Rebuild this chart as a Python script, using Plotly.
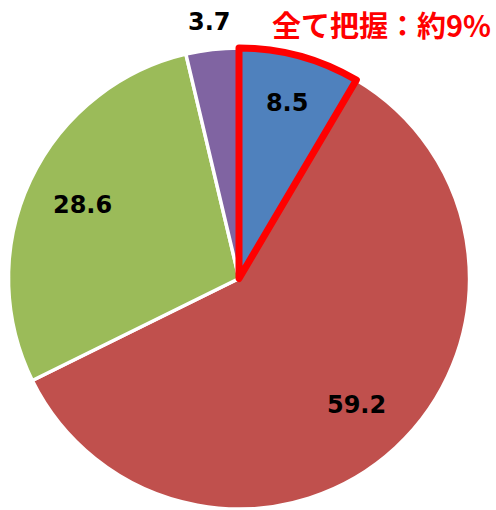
import math
import plotly.graph_objects as go

# data (clockwise from 12 o'clock: blue, red, green, purple)
labels = ["全て把握", "一部把握", "把握していない", "その他"]
values = [8.5, 59.2, 28.6, 3.7]
colors = ["#4F81BD", "#C0504D", "#9BBB59", "#8064A2"]
text_labels = ["8.5", "59.2", "28.6", "3.7"]
callout = "全て把握：約9%"

W, H = 496, 510
# draw the highlighted slice last so its outline sits on top
order = [1, 2, 3, 0]
total = sum(values)
start_angle = values[0] / total * 360

line_colors = ["#FF0000" if i == 0 else "white" for i in order]
line_widths = [7 if i == 0 else 3.5 for i in order]
# the small slice gets its label outside (placed below), others inside the ring
positions = ["none" if i == 3 else "inside" for i in order]

dx0, dx1 = 8 / W, 470 / W
dy0, dy1 = 0.002, 0.906
domain = dict(x=[dx0, dx1], y=[dy0, dy1])

fig = go.Figure()
# filled slices
fig.add_trace(go.Pie(
    labels=[labels[i] for i in order],
    values=[values[i] for i in order],
    textinfo="none",
    sort=False,
    direction="clockwise",
    rotation=start_angle,
    marker=dict(colors=[colors[i] for i in order],
                line=dict(color=line_colors, width=line_widths)),
    domain=domain,
    showlegend=False,
    hoverinfo="skip",
))
# transparent ring carrying the value labels
fig.add_trace(go.Pie(
    labels=[labels[i] for i in order],
    values=[values[i] for i in order],
    text=[text_labels[i] for i in order],
    textinfo="text",
    textposition=positions,
    insidetextorientation="horizontal",
    hole=0.5,
    sort=False,
    direction="clockwise",
    rotation=start_angle,
    marker=dict(colors=["rgba(0,0,0,0)"] * 4, line=dict(width=0)),
    textfont=dict(family="DejaVu Sans", size=24, color="black", weight="bold"),
    domain=domain,
    showlegend=False,
    hoverinfo="skip",
))

# outside label for the small slice, placed along its bisector
cx_px = (dx0 + dx1) / 2 * W
cy_px = (1 - (dy0 + dy1) / 2) * H
r_px = min((dx1 - dx0) * W, (dy1 - dy0) * H) / 2
mid_frac = (sum(values[:3]) + values[3] / 2) / total
ang = mid_frac * 2 * math.pi
lx = cx_px + 1.12 * r_px * math.sin(ang)
ly = cy_px - 1.12 * r_px * math.cos(ang)
fig.add_annotation(text=text_labels[3], xref="paper", yref="paper",
                   x=lx / W, y=1 - ly / H, xanchor="center", yanchor="middle",
                   showarrow=False,
                   font=dict(family="DejaVu Sans", size=24, color="black", weight="bold"))

fig.add_annotation(text=callout, xref="paper", yref="paper", x=0.994, y=0.998,
                   xanchor="right", yanchor="top", showarrow=False,
                   font=dict(family="Noto Sans CJK JP", size=29, color="#FF0000", weight="bold"))

fig.update_layout(width=W, height=H, margin=dict(l=0, r=0, t=0, b=0),
                  paper_bgcolor="white", plot_bgcolor="white")
fig.write_html("out.html", config={"displayModeBar": False},
               post_script="document.body.style.margin='0';")
